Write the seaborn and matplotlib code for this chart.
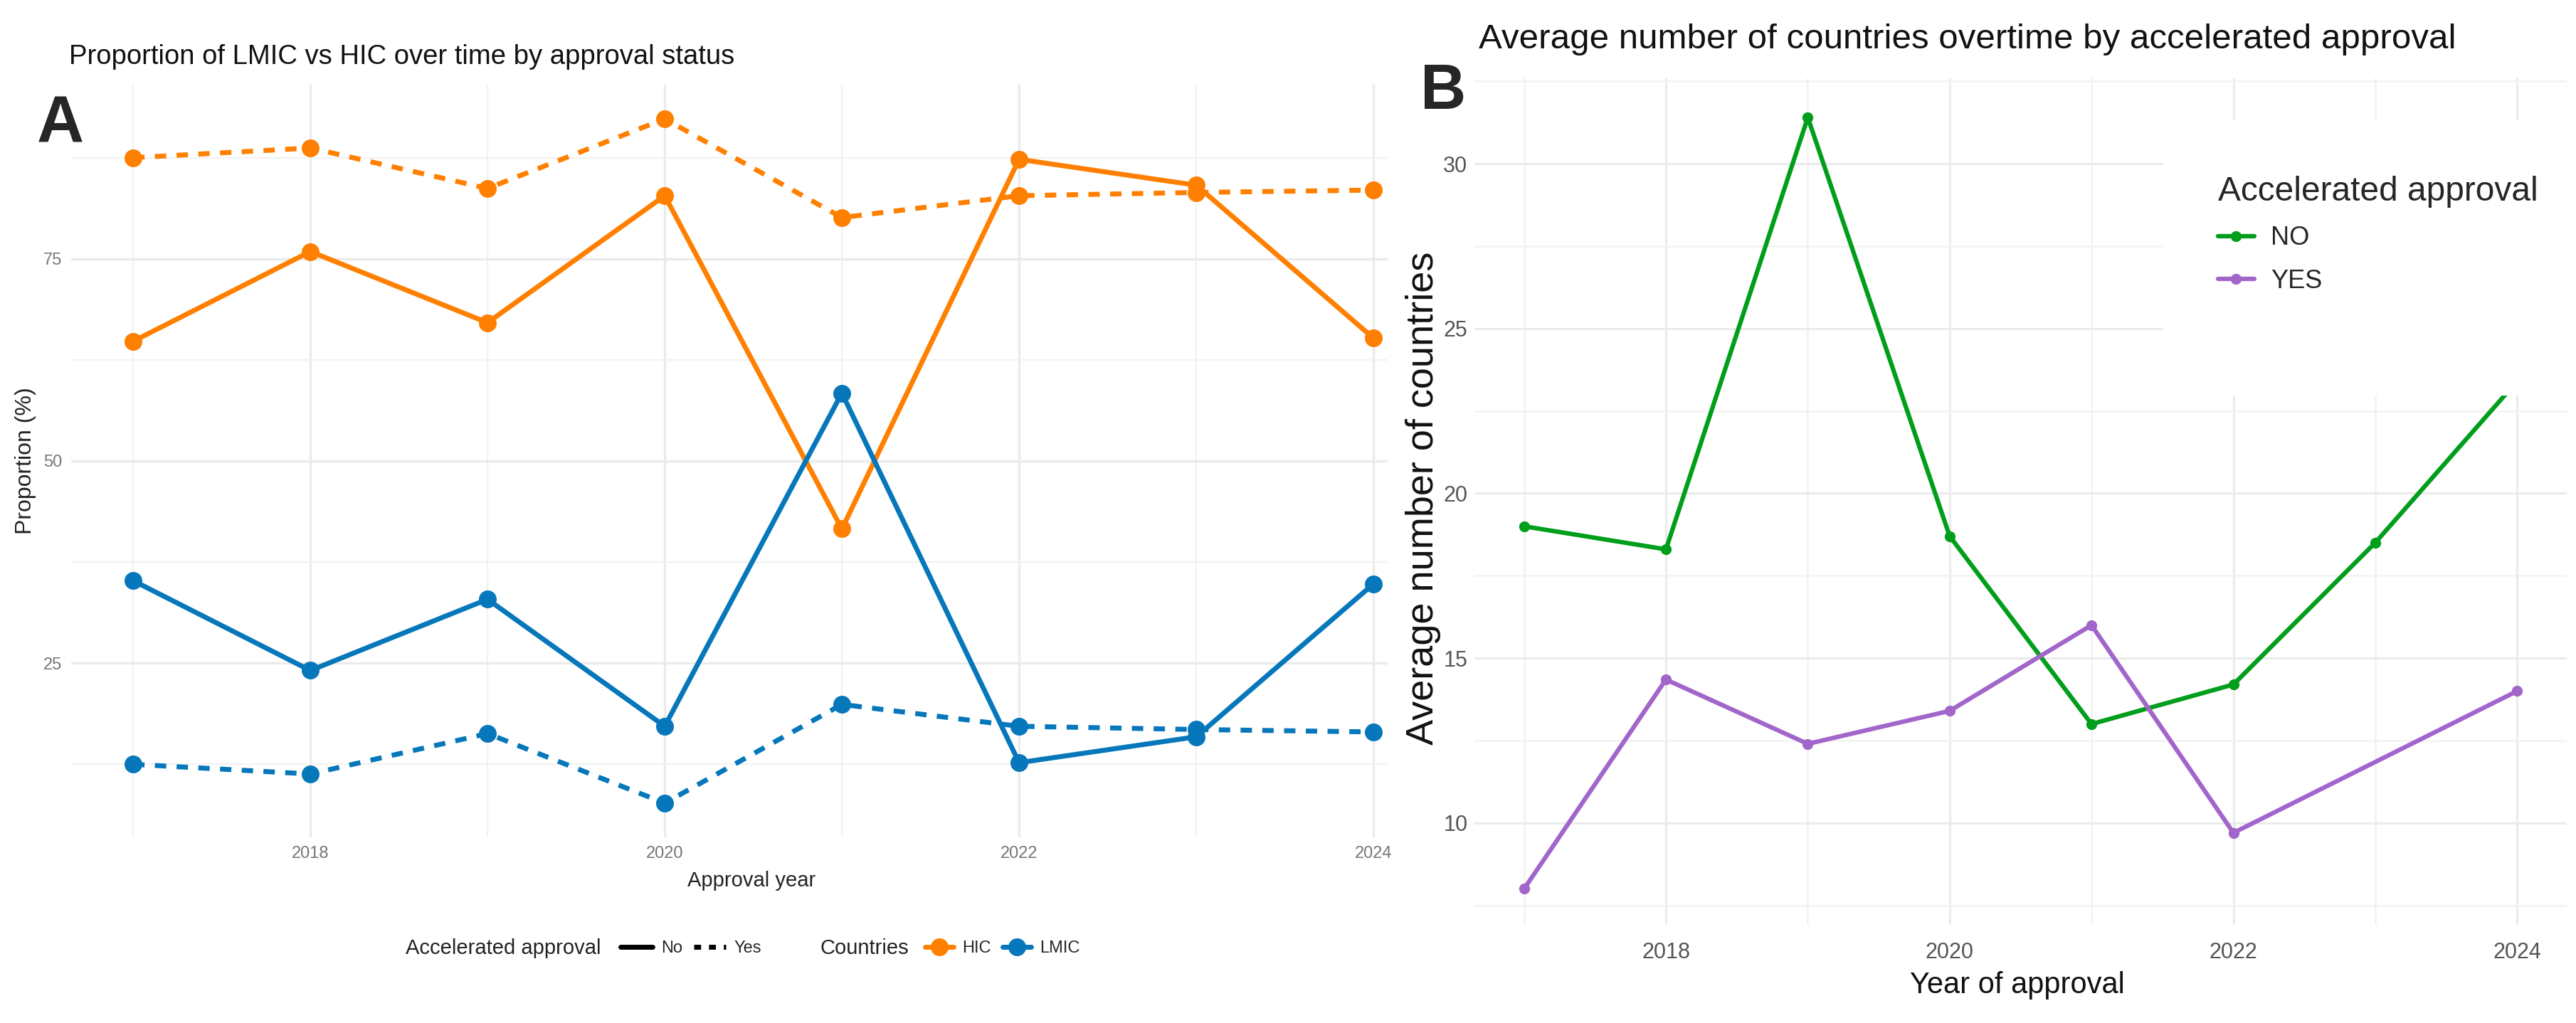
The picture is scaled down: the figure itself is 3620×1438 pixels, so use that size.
import numpy as np
import pandas as pd
import matplotlib
matplotlib.use("Agg")
import matplotlib.pyplot as plt
import seaborn as sns
from matplotlib.lines import Line2D
from matplotlib.patches import Rectangle

# ---------------- data ----------------
years_a = [2017, 2018, 2019, 2020, 2021, 2022, 2023, 2024]
hic_no = [64.8, 75.9, 67.1, 82.8, 41.6, 87.3, 84.1, 65.2]
lmic_no = [35.2, 24.1, 32.9, 17.2, 58.4, 12.7, 15.9, 34.8]
hic_yes = [87.5, 88.7, 83.7, 92.3, 80.1, 82.8, 83.2, 83.5]
lmic_yes = [12.5, 11.3, 16.3, 7.7, 19.9, 17.2, 16.8, 16.5]

years_b_no = [2017, 2018, 2019, 2020, 2021, 2022, 2023, 2024]
avg_no = [19.0, 18.3, 31.4, 18.7, 13.0, 14.2, 18.5, 23.4]
years_b_yes = [2017, 2018, 2019, 2020, 2021, 2022, 2024]
avg_yes = [8.0, 14.35, 12.4, 13.4, 16.0, 9.7, 14.0]

xticks = [2018, 2020, 2022, 2024]
yticks_a = [25, 50, 75]
yticks_b = [10, 15, 20, 25, 30]

title_a = "Proportion of LMIC vs HIC over time by approval status"
title_b = "Average number of countries overtime by accelerated approval"

# ---------------- style ----------------
sns.set_theme(style="white")
plt.rcParams["font.family"] = ["Liberation Sans", "DejaVu Sans"]

ORANGE = "#FF8000"
BLUE = "#0677BA"
GREEN = "#019E1C"
PURPLE = "#A265C9"
GRID = "#EBEBEB"
GRID_MINOR = "#F2F2F2"

W, H = 3620, 1438
fig = plt.figure(figsize=(W / 100, H / 100), dpi=100)


def rect(l, t, r, b):
    return [l / W, 1 - b / H, (r - l) / W, (b - t) / H]


def fxy(x, y):
    return x / W, 1 - y / H


# ---------------- panel A ----------------
dfA = pd.DataFrame({
    "year": years_a * 4,
    "prop": hic_no + lmic_no + hic_yes + lmic_yes,
    "Countries": ["HIC"] * 8 + ["LMIC"] * 8 + ["HIC"] * 8 + ["LMIC"] * 8,
    "Accelerated approval": ["No"] * 16 + ["Yes"] * 16,
})

axA = fig.add_axes(rect(100, 119, 1950, 1177))
sns.lineplot(data=dfA, x="year", y="prop", hue="Countries",
             style="Accelerated approval",
             palette={"HIC": ORANGE, "LMIC": BLUE},
             dashes={"No": "", "Yes": (2.3, 2.1)},
             markers={"No": "o", "Yes": "o"},
             markersize=18, linewidth=5, markeredgewidth=0,
             legend=False, ax=axA, zorder=3)
axA.set_xlim(2016.65, 2024.08)
axA.set_ylim(3.47, 96.53)
axA.set_xticks(xticks)
axA.set_xticks([2017, 2019, 2021, 2023], minor=True)
axA.set_yticks(yticks_a)
axA.set_yticks([12.5, 37.5, 62.5, 87.5], minor=True)
axA.grid(which="major", color=GRID, lw=2.4)
axA.grid(which="minor", color=GRID_MINOR, lw=1.6)
axA.tick_params(which="both", length=0)
axA.tick_params(axis="x", labelsize=17, labelcolor="#777777", pad=9)
axA.tick_params(axis="y", labelsize=17, labelcolor="#777777", pad=9)
axA.set_xlabel("")
axA.set_ylabel("")
for s in axA.spines.values():
    s.set_visible(False)

fig.text(*fxy(97, 80), title_a, fontsize=27.5, va="center", ha="left", color="#111111")
fig.text(*fxy(52, 175), "A", fontsize=66, fontweight="bold", va="center", ha="left")
fig.text(*fxy(36, 648), "Proportion (%)", fontsize=23, rotation=90,
         va="center", ha="center", color="#222222")
fig.text(*fxy(1056, 1238), "Approval year", fontsize=21, va="center", ha="center",
         color="#222222")

# legend A
fig.text(*fxy(570, 1333), "Accelerated approval", fontsize=21, va="center", ha="left",
         color="#222222")
h_lt = [Line2D([], [], color="black", lw=5),
        Line2D([], [], color="black", lw=5, dashes=(1.4, 1.6))]
legA1 = fig.legend(h_lt, ["No", "Yes"], ncol=2, frameon=False,
                   loc="center left", bbox_to_anchor=fxy(872, 1333),
                   fontsize=17, handlelength=1.9, handletextpad=0.5,
                   columnspacing=0.7, borderpad=0, borderaxespad=0)
fig.text(*fxy(1152, 1333), "Countries", fontsize=21, va="center", ha="left",
         color="#222222")
h_c = [Line2D([], [], color=ORANGE, lw=5, marker="o", markersize=18, markeredgewidth=0),
       Line2D([], [], color=BLUE, lw=5, marker="o", markersize=18, markeredgewidth=0)]
legA2 = fig.legend(h_c, ["HIC", "LMIC"], ncol=2, frameon=False,
                   loc="center left", bbox_to_anchor=fxy(1300, 1333),
                   fontsize=17, handlelength=1.7, handletextpad=0.5,
                   columnspacing=0.7, borderpad=0, borderaxespad=0)

# ---------------- panel B ----------------
dfB = pd.DataFrame({
    "year": years_b_no + years_b_yes,
    "avg": avg_no + avg_yes,
    "Accelerated approval": ["NO"] * len(years_b_no) + ["YES"] * len(years_b_yes),
})

axB = fig.add_axes(rect(2072, 110, 3607, 1300))
sns.lineplot(data=dfB, x="year", y="avg", hue="Accelerated approval",
             palette={"NO": GREEN, "YES": PURPLE}, marker="o",
             markersize=11, linewidth=4.5, markeredgewidth=0,
             legend=False, ax=axB, zorder=3)
axB.set_xlim(2016.65, 2024.35)
axB.set_ylim(6.91, 32.59)
axB.set_xticks(xticks)
axB.set_xticks([2017, 2019, 2021, 2023], minor=True)
axB.set_yticks(yticks_b)
axB.set_yticks([7.5, 12.5, 17.5, 22.5, 27.5, 32.5], minor=True)
axB.grid(which="major", color=GRID, lw=2.2)
axB.grid(which="minor", color=GRID_MINOR, lw=1.8)
axB.tick_params(which="both", length=0)
axB.tick_params(axis="x", labelsize=22, labelcolor="#555555", pad=17)
axB.tick_params(axis="y", labelsize=22, labelcolor="#555555", pad=7)
axB.set_xlabel("")
axB.set_ylabel("")
for s in axB.spines.values():
    s.set_visible(False)

fig.text(*fxy(2078, 55), title_b, fontsize=35.5, va="center", ha="left", color="#111111")
fig.text(*fxy(1996, 130), "B", fontsize=64, fontweight="bold", va="center", ha="left")
fig.text(*fxy(2000, 700), "Average number of countries", fontsize=39, rotation=90,
         va="center", ha="center", color="#111111")
fig.text(*fxy(2835, 1385), "Year of approval", fontsize=30, va="center", ha="center",
         color="#111111")

# legend B (white box covering plot area)
box = Rectangle(fxy(3040, 556), (3620 - 3040) / W, (556 - 168) / H,
                transform=fig.transFigure, facecolor="white", edgecolor="none",
                zorder=10, clip_on=False)
axB.add_artist(box)
h_b = [Line2D([], [], color=GREEN, lw=4.5, marker="o", markersize=11, markeredgewidth=0),
       Line2D([], [], color=PURPLE, lw=4.5, marker="o", markersize=11, markeredgewidth=0)]
legB = axB.legend(h_b, ["NO", "YES"], title="Accelerated approval",
                  loc="upper left", bbox_to_anchor=fxy(3117, 247),
                  bbox_transform=fig.transFigure, frameon=False,
                  fontsize=26, title_fontsize=34.5, alignment="left",
                  handlelength=1.4, handletextpad=0.65, labelspacing=0.7,
                  borderpad=0, borderaxespad=0)
legB.set_zorder(11)

fig.savefig("out.png", dpi=100, facecolor="white")
